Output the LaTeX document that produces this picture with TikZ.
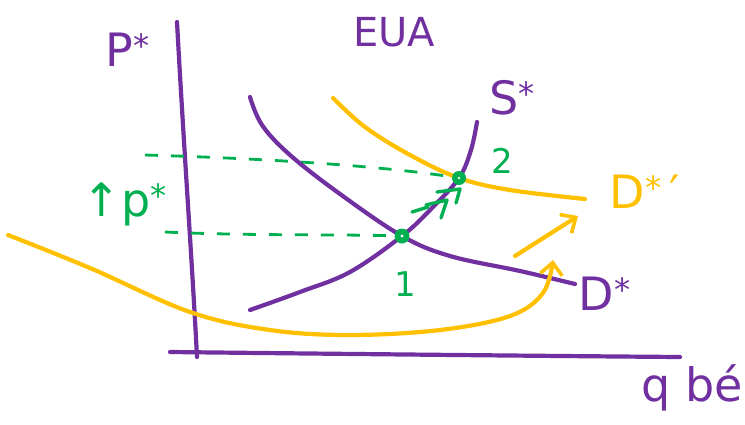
\documentclass[tikz,border=0pt]{standalone}
\usepackage{fontspec}
\setmainfont{DejaVu Sans}
\usetikzlibrary{arrows.meta}
\definecolor{hpurple}{HTML}{7030A0}
\definecolor{horange}{HTML}{FFC000}
\definecolor{hgreen}{HTML}{00B050}
\begin{document}
\begin{tikzpicture}[x=1pt,y=-1pt,
  pen/.style={line width=4.2pt,line cap=round,line join=round},
  purp/.style={pen,draw=hpurple},
  oran/.style={pen,draw=horange},
  gree/.style={pen,draw=hgreen},
  gdash/.style={gree,line width=2.8pt,line cap=butt,dash pattern=on 13pt off 13pt},
  lbl/.style={inner sep=0pt,font=\fontsize{46}{50}\selectfont},
  slbl/.style={inner sep=0pt,font=\fontsize{34}{38}\selectfont},
  tip/.style={-{Straight Barb[length=12pt,width=22pt,line width=3.6pt]}}]
\useasboundingbox (0,0) rectangle (745,424);
% equilibrium points
\coordinate (E1) at (402,236);
\coordinate (E2) at (459,178);
% axes
\draw[purp] (177,22) .. controls (184,150) and (192,260) .. (197,357);
\draw[purp] (170,352) .. controls (350,354) and (550,356) .. (680,357);
% dashed guide lines
\draw[gdash] (145,155) .. controls (250,158) and (380,165) .. (E2);
\draw[gdash] (165,232) .. controls (250,236) and (340,234) .. (E1);
% demand D*
\draw[purp] plot[smooth,tension=0.6] coordinates {(250,97) (262,125) (290,155) (340,194) (E1) (450,256) (520,271) (575,284)};
% supply S*
\draw[purp] plot[smooth,tension=0.6] coordinates {(250,310) (300,292) (350,272) (E1) (432,208) (E2) (471,150) (477,122)};
% shifted demand D*'
\draw[oran] plot[smooth,tension=0.6] coordinates {(333,98) (365,127) (410,155) (E2) (510,190) (585,199)};
% big orange curve
\draw[oran,tip] plot[smooth,tension=0.6] coordinates {(8,235) (90,268) (190,312) (270,330) (350,335) (440,330) (510,316) (543,293) (553,260)};
% orange shift arrow
\draw[oran,tip] (515,256) -- (578,216);
% points
\fill[hgreen] (E1) circle (7.5pt);
\fill[hgreen] (E2) circle (7pt);
\fill[white] (E1) circle (1.6pt);
\fill[white] (E2) circle (1.4pt);
% small green movement marks
\draw[gree,line width=3.4pt] (412,212) -- (428,207);
\draw[gree,line width=3.4pt] (426,205) -- (447,200) -- (441,218);
\draw[gree,line width=3.4pt] (437,192) -- (460,189) -- (456,203);
% labels
\node[lbl,text=hpurple] (lP) at (128,50) {P\textsuperscript{*}};
\node[slbl,text=hpurple,font=\fontsize{40}{44}\selectfont] (lEUA) at (394,32) {EUA};
\node[lbl,text=hpurple] (lS) at (512,98) {S\textsuperscript{*}};
\node[lbl,text=horange] (lDp) at (645,192) {D\textsuperscript{*}\,′};
\node[lbl,text=hpurple] (lD) at (605,294) {D\textsuperscript{*}};
\node[lbl,text=hpurple] (lq) at (692,388) {q bé};
\node[slbl,text=hgreen] (l1) at (405,284) {1};
\node[slbl,text=hgreen] (l2) at (502,161) {2};
\node[lbl,text=hgreen] (lp) at (125,204) {↑p\textsuperscript{*}};
\end{tikzpicture}
\end{document}
